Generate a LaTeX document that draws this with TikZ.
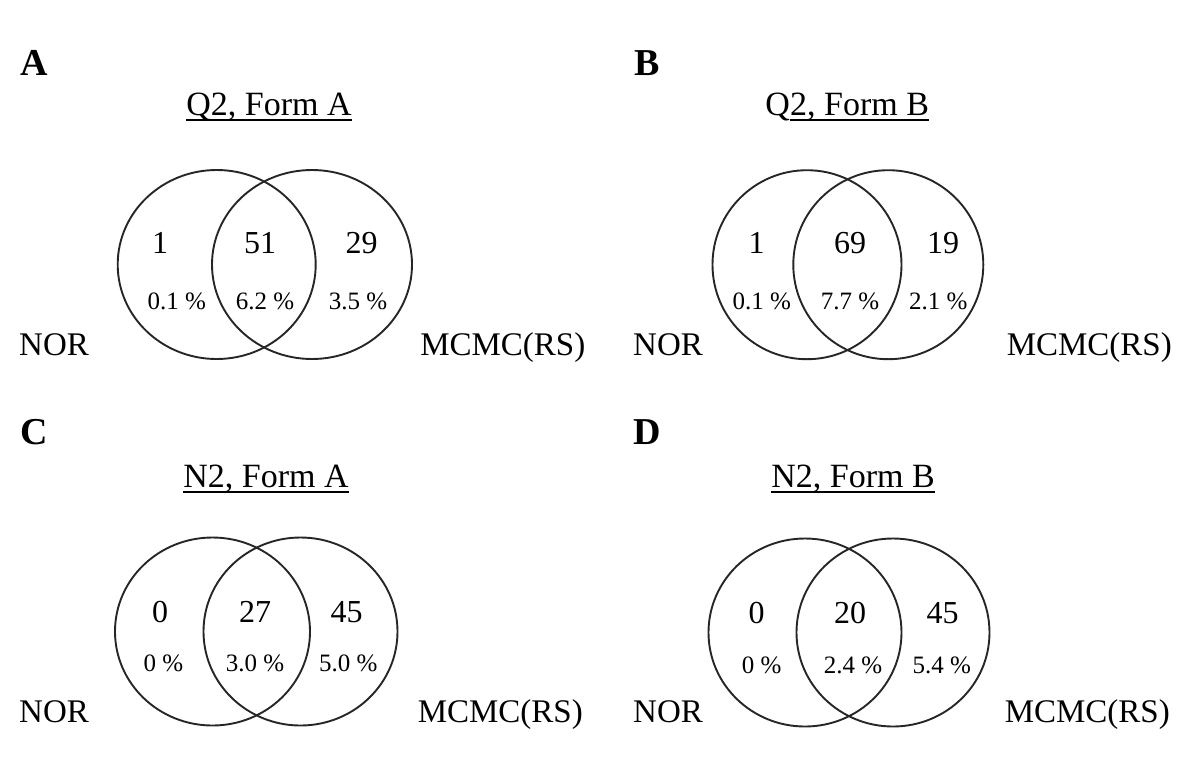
\documentclass[tikz,border=0pt]{standalone}
\usepackage{fontspec}
\setmainfont{Liberation Serif}
\usetikzlibrary{shapes.geometric}
\begin{document}
\begin{tikzpicture}[x=1pt,y=-1pt,
  venn/.style={draw, ellipse, inner sep=0, line width=1.9pt, black!85},
  num/.style={inner sep=0, font=\fontsize{32}{32}\selectfont},
  pct/.style={inner sep=0, font=\fontsize{25}{25}\selectfont},
  lab/.style={inner sep=0, font=\fontsize{33}{33}\selectfont},
  ttl/.style={inner sep=0, font=\fontsize{34}{34}\selectfont},
  panel/.style={inner sep=0, font=\fontsize{38}{38}\selectfont\bfseries},
  uline/.style={line width=1.5pt}]
\useasboundingbox (0,0) rectangle (1186,756);

% ---------- Panel A ----------
\node[panel] (pA) at (34,63) {A};
\node[ttl, anchor=base] (tA) at (269,115) {Q2, Form A};
\draw[uline] ([yshift=-5pt]tA.base west) -- ([yshift=-5pt]tA.base east);
\node[venn, minimum width=198pt, minimum height=189pt] (aL) at (216.7,264.5) {};
\node[venn, minimum width=200pt, minimum height=189pt] (aR) at (312,264.5) {};
\node[num] (aN1) at (160,243) {1};
\node[num] (aN2) at (260,243) {51};
\node[num] (aN3) at (361.7,243) {29};
\node[pct] (aP1) at (176.7,301.7) {0.1 \%};
\node[pct] (aP2) at (265,301.7) {6.2 \%};
\node[pct] (aP3) at (358,301.7) {3.5 \%};
\node[lab, anchor=base west] (aNOR) at (19,355) {NOR};
\node[lab, anchor=base east] (aMC) at (585.5,355) {MCMC(RS)};

% ---------- Panel B ----------
\node[panel] (pB) at (647,63) {B};
\node[ttl, anchor=base east] (tBq) at (790,115) {Q};
\node[ttl, anchor=base west] (tB) at (tBq.base east) {2, Form B};
\draw[uline] ([yshift=-5pt]tB.base west) -- ([yshift=-5pt]tB.base east);
\node[venn, minimum width=189pt, minimum height=189pt] (bL) at (807,264.7) {};
\node[venn, minimum width=190pt, minimum height=189pt] (bR) at (888.3,264.7) {};
\node[num] (bN1) at (756.7,243) {1};
\node[num] (bN2) at (850,243) {69};
\node[num] (bN3) at (943,243) {19};
\node[pct] (bP1) at (761.7,301.7) {0.1 \%};
\node[pct] (bP2) at (850,301.7) {7.7 \%};
\node[pct] (bP3) at (938.3,301.7) {2.1 \%};
\node[lab, anchor=base west] (bNOR) at (633,355) {NOR};
\node[lab, anchor=base east] (bMC) at (1172,355) {MCMC(RS)};

% ---------- Panel C ----------
\node[panel] (pC) at (34,432.5) {C};
\node[ttl, anchor=base] (tC) at (266,487) {N2, Form A};
\draw[uline] ([yshift=-5pt]tC.base west) -- ([yshift=-5pt]tC.base east);
\node[venn, minimum width=195pt, minimum height=188pt] (cL) at (212.5,631.5) {};
\node[venn, minimum width=194pt, minimum height=188pt] (cR) at (300.5,631.5) {};
\node[num] (cN1) at (160,611.7) {0};
\node[num] (cN2) at (255,611.7) {27};
\node[num] (cN3) at (346.7,611.7) {45};
\node[pct] (cP1) at (163.3,663.3) {0 \%};
\node[pct] (cP2) at (255,663.3) {3.0 \%};
\node[pct] (cP3) at (348.3,663.3) {5.0 \%};
\node[lab, anchor=base west] (cNOR) at (19,722) {NOR};
\node[lab, anchor=base east] (cMC) at (583,722) {MCMC(RS)};

% ---------- Panel D ----------
\node[panel] (pD) at (647,432.5) {D};
\node[ttl, anchor=base] (tD) at (853,487) {N2, Form B};
\draw[uline] ([yshift=-5pt]tD.base west) -- ([yshift=-5pt]tD.base east);
\node[venn, minimum width=193pt, minimum height=188pt] (dL) at (805,632.5) {};
\node[venn, minimum width=193pt, minimum height=188pt] (dR) at (893,632.5) {};
\node[num] (dN1) at (756.7,613) {0};
\node[num] (dN2) at (850,613) {20};
\node[num] (dN3) at (942.7,613) {45};
\node[pct] (dP1) at (761.7,665) {0 \%};
\node[pct] (dP2) at (853,665) {2.4 \%};
\node[pct] (dP3) at (941.7,665) {5.4 \%};
\node[lab, anchor=base west] (dNOR) at (633,722) {NOR};
\node[lab, anchor=base east] (dMC) at (1170,722) {MCMC(RS)};
\end{tikzpicture}
\end{document}
